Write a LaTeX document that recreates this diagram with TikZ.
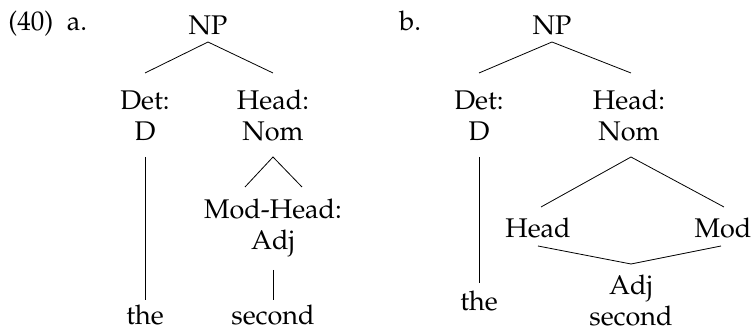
\documentclass[tikz,border=0pt]{standalone}
\usepackage[T1]{fontenc}
\usepackage{mathpazo}
\begin{document}
\begin{tikzpicture}[x=0.5pt,y=-0.5pt,
  lbl/.style={inner sep=0pt,font=\fontsize{13.5}{15.5}\selectfont,align=center},
  edge/.style={line width=0.4pt}]
\useasboundingbox (0,0) rectangle (752,331);
% (a)
\node[lbl,anchor=base west] (ex) at (8,31) {(40)\ \ a.};
\node[lbl] (np1) at (208,25) {NP};
\node[lbl] (det1) at (145,116) {Det:\\D};
\node[lbl] (head1) at (273,116) {Head:\\Nom};
\node[lbl] (mh1) at (273,228) {Mod-Head:\\Adj};
\node[lbl,anchor=base] (the1) at (145,325) {the};
\node[lbl,anchor=base] (sec1) at (273,325) {second};
\coordinate (np1b) at (208,42);
\coordinate (det1t) at (145,73);
\coordinate (head1t) at (273,73);
\coordinate (head1b) at (273,157);
\coordinate (det1b) at (145,157);
\coordinate (mh1l) at (245,187);
\coordinate (mh1r) at (302,187);
\coordinate (mh1b) at (273,270);
\coordinate (the1t) at (145,300);
\coordinate (sec1t) at (273,300);
\draw[edge] (det1t) -- (np1b) -- (head1t);
\draw[edge] (det1b) -- (the1t);
\draw[edge] (mh1l) -- (head1b) -- (mh1r);
\draw[edge] (mh1b) -- (sec1t);
% (b)
\node[lbl,anchor=base west] (exb) at (399,31) {b.};
\node[lbl] (np2) at (552,25) {NP};
\node[lbl] (det2) at (479,116) {Det:\\D};
\node[lbl] (head2) at (629,116) {Head:\\Nom};
\node[lbl] (hd2) at (538,228) {Head};
\node[lbl] (mod2) at (723,228) {Mod};
\node[lbl] (adj2) at (631,301) {Adj\\second};
\node[lbl,anchor=base] (the2) at (479,311) {the};
\coordinate (np2b) at (552,42);
\coordinate (det2t) at (479,73);
\coordinate (head2t) at (631,73);
\coordinate (det2b) at (479,157);
\coordinate (the2t) at (479,283);
\coordinate (head2b) at (631,157);
\coordinate (hd2t) at (541,207);
\coordinate (mod2t) at (724,207);
\coordinate (hd2b) at (538,246);
\coordinate (mod2b) at (721,246);
\coordinate (adj2t) at (631,264);
\draw[edge] (det2t) -- (np2b) -- (head2t);
\draw[edge] (det2b) -- (the2t);
\draw[edge] (hd2t) -- (head2b) -- (mod2t);
\draw[edge] (hd2b) -- (adj2t) -- (mod2b);
\end{tikzpicture}
\end{document}
